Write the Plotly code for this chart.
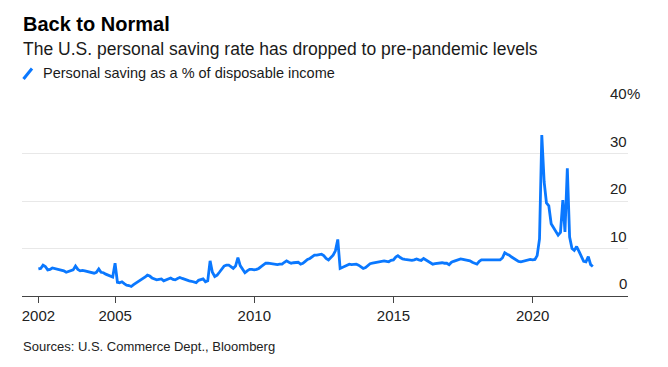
import plotly.graph_objects as go
import pandas as pd

# Personal saving as a % of disposable income, monthly, Mar 2002 - Feb 2022
y2002 = [5.7, 5.8, 6.5, 6.2, 5.5, 5.6, 5.9, 5.8, 5.7, 5.5]
y2003 = [5.5, 5.3, 5.0, 5.2, 5.3, 5.5, 6.3, 5.6, 5.3, 5.4, 5.3, 5.2]
y2004 = [5.1, 4.9, 4.8, 5.0, 5.7, 5.0, 4.9, 4.6, 4.4, 4.1, 4.0, 6.9]
y2005 = [2.9, 2.8, 3.0, 2.6, 2.3, 2.2, 2.0, 2.4, 2.7, 3.1, 3.3, 3.6]
y2006 = [4.0, 4.4, 4.2, 3.8, 3.6, 3.4, 3.5, 3.6, 3.2, 3.4, 3.6, 3.8]
y2007 = [3.5, 3.4, 3.7, 3.9, 3.7, 3.5, 3.4, 3.2, 3.1, 2.9, 2.8, 3.3]
y2008 = [3.5, 3.6, 3.0, 3.2, 7.4, 5.0, 4.1, 4.4, 5.0, 5.8, 6.3, 6.5]
y2009 = [6.5, 6.2, 5.8, 6.3, 8.1, 6.4, 5.6, 4.9, 5.3, 5.6, 5.6, 5.5]
y2010 = [5.6, 5.8, 6.2, 6.6, 6.9, 6.9, 6.8, 6.7, 6.7, 6.6, 6.7, 6.7]
y2011 = [7.1, 7.4, 7.1, 6.9, 7.0, 7.1, 7.1, 6.7, 6.9, 7.3, 7.7, 7.9]
y2012 = [8.2, 8.6, 8.6, 8.7, 8.8, 8.5, 7.9, 7.6, 8.0, 8.6, 9.5, 11.9]
y2013 = [5.8, 6.0, 6.3, 6.5, 6.7, 6.6, 6.6, 6.7, 6.5, 6.2, 5.8, 6.0]
y2014 = [6.5, 6.8, 6.9, 7.0, 7.2, 7.2, 7.3, 7.4, 7.3, 7.2, 7.5, 7.6]
y2015 = [8.2, 8.5, 8.1, 7.8, 7.7, 7.6, 7.6, 7.5, 7.6, 7.8, 7.6, 7.5]
y2016 = [7.9, 7.6, 7.2, 6.9, 6.7, 6.8, 6.9, 7.0, 7.0, 6.9, 6.9, 6.6]
y2017 = [7.1, 7.3, 7.5, 7.6, 7.8, 7.7, 7.6, 7.5, 7.4, 7.1, 6.9, 6.7]
y2018 = [7.3, 7.6, 7.6, 7.6, 7.6, 7.6, 7.6, 7.6, 7.6, 7.6, 8.0, 9.1]
y2019 = [8.8, 8.6, 8.2, 7.9, 7.6, 7.3, 7.2, 7.3, 7.4, 7.6, 7.7, 7.6]
y2020 = [7.7, 8.5, 12.0, 33.9, 24.0, 19.6, 19.0, 15.2, 14.3, 13.6, 12.8, 13.4]
y2021 = [20.2, 13.5, 26.9, 12.4, 10.0, 9.6, 10.4, 9.4, 8.3, 7.3, 7.2, 8.3]
y2022 = [6.6, 6.2]

saving_rate = (y2002 + y2003 + y2004 + y2005 + y2006 + y2007 + y2008 + y2009 +
               y2010 + y2011 + y2012 + y2013 + y2014 + y2015 + y2016 + y2017 +
               y2018 + y2019 + y2020 + y2021 + y2022)

# month-end dates
dates = pd.date_range(start="2002-04-01", periods=len(saving_rate), freq="MS") - pd.Timedelta(days=1)

x_tick_labels = ["2002", "2005", "2010", "2015", "2020"]
x_tick_vals = [dates[0], "2005-01-01", "2010-01-01", "2015-01-01", "2020-01-01"]
y_ticks = [0, 10, 20, 30, 40]

BLUE = "#0a78ff"
FONT = "Liberation Sans, Arial, sans-serif"

fig = go.Figure()
fig.add_trace(go.Scatter(
    x=dates, y=saving_rate, mode="lines",
    line=dict(color=BLUE, width=2.8),
    hoverinfo="x+y", showlegend=False,
))

# The page body adds an 8px margin; the figure is sized to fit inside it.
OFF = 8
W, H = 668 - 2 * OFF, 367 - 2 * OFF
# plot area in page coords: x 22..628, y 106..296
L, R, T, B = 22 - OFF, W - (628 - OFF), 106 - OFF, H - (296 - OFF)
pw, ph = W - L - R, H - T - B

def px(x):
    return (x - OFF - L) / pw

def py(y):
    return (H - B - (y - OFF)) / ph

annotations = []
for v in y_ticks:
    annotations.append(dict(
        x=1, xref="paper", y=v, yref="y", text=str(v),
        xanchor="right", yanchor="bottom", showarrow=False, yshift=2, xshift=1,
        font=dict(family=FONT, size=15, color="#222222"),
    ))
annotations.append(dict(
    x=1, xref="paper", y=y_ticks[-1], yref="y", text="%",
    xanchor="left", yanchor="bottom", showarrow=False, yshift=2, xshift=-3,
    font=dict(family=FONT, size=15, color="#222222"),
))

annotations += [
    dict(x=px(21), y=py(23.5), xref="paper", yref="paper", text="<b>Back to Normal</b>",
         xanchor="left", yanchor="middle", showarrow=False,
         font=dict(family=FONT, size=20, color="#000000")),
    dict(x=px(21), y=py(48.5), xref="paper", yref="paper",
         text="The U.S. personal saving rate has dropped to pre-pandemic levels",
         xanchor="left", yanchor="middle", showarrow=False,
         font=dict(family=FONT, size=17.5, color="#1a1a1a")),
    dict(x=px(40.5), y=py(73), xref="paper", yref="paper",
         text="Personal saving as a % of disposable income",
         xanchor="left", yanchor="middle", showarrow=False,
         font=dict(family=FONT, size=14.5, color="#1a1a1a")),
    dict(x=px(21), y=py(346), xref="paper", yref="paper",
         text="Sources: U.S. Commerce Dept., Bloomberg",
         xanchor="left", yanchor="middle", showarrow=False,
         font=dict(family=FONT, size=13, color="#222222")),
]

shapes = [dict(type="line", xref="paper", yref="paper",
               x0=px(23.5), y0=py(79), x1=px(32), y1=py(68.5),
               line=dict(color=BLUE, width=3))]

fig.update_layout(
    width=W, height=H,
    margin=dict(l=L, r=R, t=T, b=B, pad=0),
    paper_bgcolor="white", plot_bgcolor="white",
    font=dict(family=FONT, size=15, color="#222222"),
    annotations=annotations,
    shapes=shapes,
    xaxis=dict(
        range=["2001-08-28", "2023-06-05"],
        tickvals=x_tick_vals, ticktext=x_tick_labels,
        ticks="outside", ticklen=6, tickwidth=1, tickcolor="#444444",
        showline=True, linecolor="#444444", linewidth=1,
        showgrid=False, zeroline=False,
        tickfont=dict(family=FONT, size=15, color="#222222"),
        fixedrange=True,
    ),
    yaxis=dict(
        range=[0, 40], tickvals=y_ticks, showticklabels=False,
        showgrid=True, gridcolor="#e8e8e8", gridwidth=1,
        zeroline=False, showline=False, fixedrange=True,
    ),
)

fig.write_html("out.html")
